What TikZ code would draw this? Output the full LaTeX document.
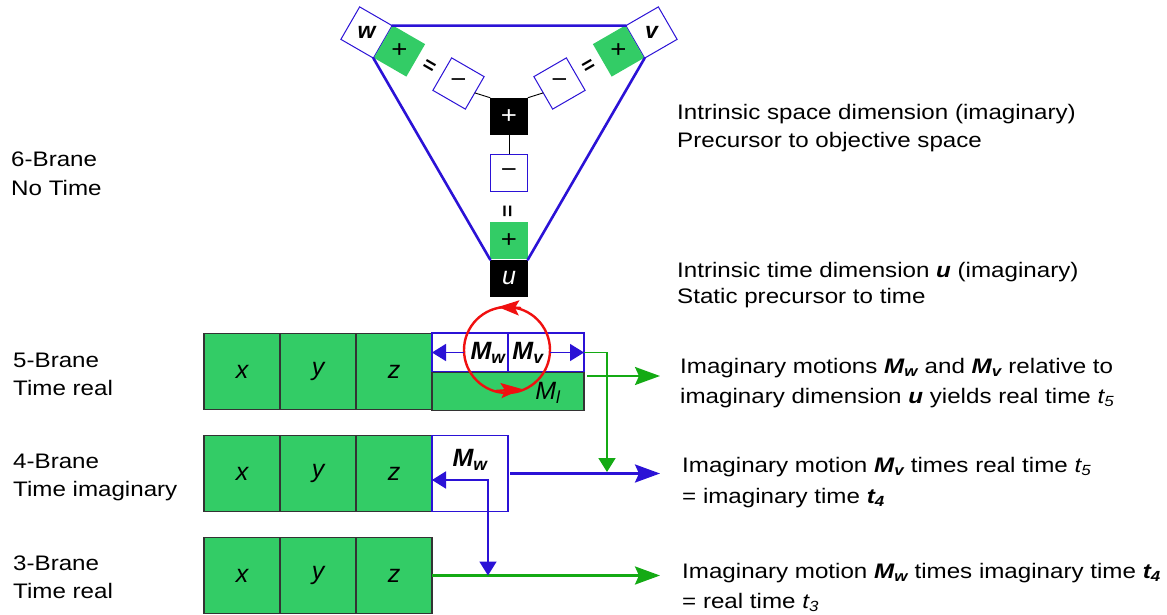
\documentclass[tikz,border=0pt]{standalone}
\usepackage{fontspec}
\setmainfont{Liberation Sans}
\newfontfamily\widefont{Liberation Sans}[FakeStretch=1.15]
\usepackage{graphicx}
\usepackage{tikz}
\usetikzlibrary{calc,arrows.meta}
\definecolor{gfill}{HTML}{33CC66}
\definecolor{edge}{HTML}{333333}
\definecolor{blu}{HTML}{2B12D6}
\definecolor{grn}{HTML}{14AA14}
\definecolor{rd}{HTML}{F01010}
\newcommand{\bi}[1]{\textbf{\textit{#1}}}
\newcommand{\upr}[2]{\rotatebox[origin=c]{#1}{#2}}
\tikzset{
  tri/.style={draw=blu, line width=2.6pt, line cap=round},
  cell/.style={draw=edge, fill=gfill, line width=1.1pt, minimum width=76pt, minimum height=76pt,
    inner sep=0pt, outer sep=0pt, font=\fontsize{25}{30}\selectfont\itshape},
  wcell/.style={draw=blu, fill=white, line width=1.1pt, minimum width=76pt, inner sep=0pt, outer sep=0pt},
  sq/.style={minimum size=37.5pt, inner sep=0pt, outer sep=0pt, line width=1pt, font=\widefont\fontsize{24}{30}\selectfont},
  gsq/.style={sq, fill=gfill},
  wsq/.style={sq, draw=blu, fill=white},
  ksq/.style={sq, fill=black, text=white},
  eqs/.style={inner sep=0pt, font=\fontsize{21}{25}\selectfont\bfseries},
  lab/.style={anchor=base west, inner sep=0pt, font=\widefont\fontsize{21}{28}\selectfont},
  mlab/.style={inner sep=0pt, font=\fontsize{25}{30}\selectfont\bfseries\itshape},
  link/.style={draw=black, line width=0.9pt},
  bigtip/.style={-{Stealth[length=25pt,width=18pt,inset=4pt]}},
  smalltip/.style={-{Triangle[length=14pt,width=17pt]}},
  redtip/.style={-{Stealth[length=21pt,width=15pt,inset=4pt]}},
}
\begin{document}
\begin{tikzpicture}[x=1pt,y=-1pt]
  \useasboundingbox (0,0) rectangle (1167,615);
  % 6-brane triangle
  \node[wsq, rotate=-30, font=\fontsize{23}{28}\selectfont\bfseries\itshape] (w) at (366.5,32.5) {\upr{30}{w}};
  \node[gsq, rotate=-30] (wp) at (399.5,51) {\upr{30}{+}};
  \node[eqs, rotate=-30] (we) at (429,67) {=};
  \node[wsq, rotate=-30] (wm) at (458.5,83.5) {\upr{30}{−}};
  \node[wsq, rotate=30, font=\fontsize{23}{28}\selectfont\bfseries\itshape] (v) at (651.5,32.5) {\upr{-30}{v}};
  \node[gsq, rotate=30] (vp) at (618.5,51) {\upr{-30}{+}};
  \node[eqs, rotate=30] (ve) at (589,67) {=};
  \node[wsq, rotate=30] (vm) at (559.5,83.5) {\upr{-30}{−}};
  \node[ksq] (hub) at (509,116.5) {+};
  \node[wsq] (um) at (509,173) {−};
  \node[eqs, rotate=90] (ue) at (509,211) {=};
  \node[gsq] (up) at (509,240.5) {+};
  \node[ksq, font=\fontsize{25}{30}\selectfont\itshape] (u) at (509,278.5) {u};
  \draw[tri] (w.north east) -- (v.north west);
  \draw[tri] (w.south east) -- (u.north west);
  \draw[tri] (v.south west) -- (u.north east);
  \draw[link] (wm.east) -- (hub.north west);
  \draw[link] (vm.west) -- (hub.north east);
  \draw[link] (hub) -- (um);

  % branes
  \foreach \n/\yc in {5/371.5,4/473.5,3/575.5}{
    \node[cell] (x\n) at (242,\yc) {x};
    \node[cell] (y\n) at (318,\yc) {y};
    \node[cell] (z\n) at (394,\yc) {z};
  }
  \node[wcell, minimum height=39pt] (mw5) at (470,352.5) {};
  \node[wcell, minimum height=39pt] (mv5) at (546,352.5) {};
  \node[cell, minimum width=152pt, minimum height=38pt] (ml5) at (508,391.5) {};
  \node[wcell, minimum height=76pt] (mw4) at (470,473.5) {};
  \node[mlab] (lw5) at (488,353) {M\textsubscript{w}};
  \node[mlab] (lv5) at (528,353) {M\textsubscript{v}};
  \node[mlab, font=\fontsize{25}{30}\selectfont\itshape] (ll5) at (548,393) {M\textsubscript{l}};
  \node[mlab] (lw4) at (470,460) {M\textsubscript{w}};

  % motion loop
  \node[circle, draw=rd, line width=2.4pt, minimum size=86pt, inner sep=0pt, outer sep=0pt] (ring) at (507,350) {};
  \draw[rd, line width=2.4pt, redtip] ($(ring.north)+(14,1)$) -- ($(ring.north)+(-9,0)$);
  \draw[rd, line width=2.4pt, redtip] ($(ring.south)+(-11,-2)$) -- ($(ring.south)+(15,-4)$);

  % arrows
  \coordinate (e5) at (660,376);
  \coordinate (j4) at (607,472);
  \coordinate (k4) at (488,480);
  \draw[blu, line width=1.6pt, smalltip] (ring.west |- mw5.west) -- (mw5.west);
  \draw[blu, line width=1.6pt, smalltip] (ring.east |- mv5.east) -- (mv5.east);
  \draw[grn, line width=1.8pt, smalltip] (mv5.east) -| (j4);
  \draw[grn, line width=2.4pt, bigtip, shorten <=3pt] (e5 -| ml5.east) -- (e5);
  \draw[blu, line width=2.8pt, bigtip, shorten <=2pt] (mw4.east) -- (mw4.east -| e5);
  \draw[grn, line width=2.8pt, bigtip] (z3.east) -- (z3.east -| e5);
  \draw[blu, line width=1.8pt, {Triangle[length=14pt,width=17pt]}-{Triangle[length=14pt,width=17pt]}]
    (k4 -| mw4.west) -- (k4) -- (k4 |- z3.east);

  % left labels
  \node[lab] (b6a) at (11,167) {6-Brane};
  \node[lab] (b6b) at (11,195) {No Time};
  \node[lab] (b5a) at (13,367) {5-Brane};
  \node[lab] (b5b) at (13,395) {Time real};
  \node[lab] (b4a) at (13,468) {4-Brane};
  \node[lab] (b4b) at (13,496) {Time imaginary};
  \node[lab] (b3a) at (13,570) {3-Brane};
  \node[lab] (b3b) at (13,598) {Time real};

  % right labels
  \node[lab] (sp1) at (677,120) {Intrinsic space dimension (imaginary)};
  \node[lab] (sp2) at (677,148) {Precursor to objective space};
  \node[lab] (tm1) at (677,277) {Intrinsic time dimension \bi{u} (imaginary)};
  \node[lab] (tm2) at (677,303) {Static precursor to time};
  \node[lab] (d5a) at (680,373) {Imaginary motions \bi{M\textsubscript{w}} and \bi{M\textsubscript{v}} relative to};
  \node[lab] (d5b) at (680,403) {imaginary dimension \bi{u} yields real time \textit{t\textsubscript{5}}};
  \node[lab] (d4a) at (682,472) {Imaginary motion \bi{M\textsubscript{v}} times real time \textit{t\textsubscript{5}}};
  \node[lab] (d4b) at (682,503) {= imaginary time \bi{t\textsubscript{4}}};
  \node[lab] (d3a) at (682,578) {Imaginary motion \bi{M\textsubscript{w}} times imaginary time \bi{t\textsubscript{4}}};
  \node[lab] (d3b) at (682,608) {= real time \textit{t\textsubscript{3}}};
\end{tikzpicture}
\end{document}
